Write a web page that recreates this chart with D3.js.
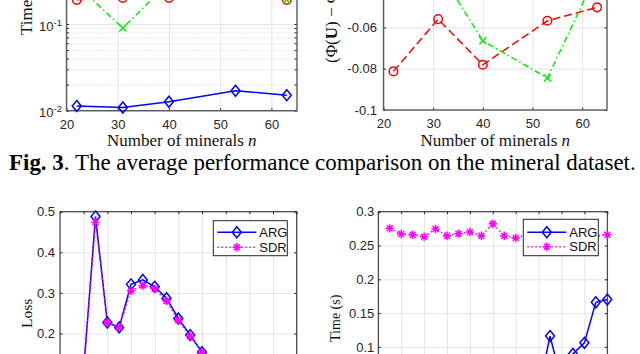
<!DOCTYPE html>
<html>
<head>
<meta charset="utf-8">
<script src="https://cdn.jsdelivr.net/npm/d3@7"></script>
<style>
  body { margin: 0; background: #fff; }
  svg { display: block; }
</style>
</head>
<body>
<div id="fig"></div>
<script>
// values

// top row: mineral dataset
var mineralN = [22, 31, 40, 53, 63];
var timeBlue = [0.0113, 0.0109, 0.0127, 0.017, 0.0151];
var timeRed = [0.19, 0.2, 0.2, 0.25, 0.19];
var timeGreen = [0.28, 0.09, 0.3, 0.35, 0.19];
var gapRed = [-0.0813, -0.056, -0.0781, -0.0568, -0.0503];
var gapGreen = [-0.03, -0.032, -0.0665, -0.0845, -0.0337];

// bottom row: ARG vs SDR
var sizes = [5, 10, 15, 20, 25, 30, 35, 40, 45, 50, 55, 60, 65, 70, 75, 80, 85, 90, 95, 100];
var lossARG = [0.05, 0.11, 0.488, 0.227, 0.215, 0.321, 0.332, 0.315, 0.287, 0.237, 0.196, 0.154, 0.12, 0.1, 0.085, 0.07, 0.06, 0.055, 0.05, 0.045];
var lossSDR = [0.05, 0.11, 0.474, 0.227, 0.215, 0.305, 0.318, 0.31, 0.28, 0.232, 0.193, 0.153, 0.12, 0.1, 0.085, 0.07, 0.06, 0.055, 0.05, 0.045];
var timeARG = [0.005, 0.006, 0.008, 0.01, 0.012, 0.015, 0.018, 0.02, 0.024, 0.027, 0.03, 0.033, 0.035, 0.036, 0.116, 0.05, 0.0895, 0.106, 0.166, 0.17];
var timeSDR = [0.2754, 0.267, 0.266, 0.263, 0.2744, 0.2645, 0.2675, 0.27, 0.2645, 0.282, 0.2645, 0.261, 0.266, 0.268, 0.263, 0.27, 0.265, 0.267, 0.264, 0.266];

var legendNames = ["ARG", "SDR"];

var svgWidth = 640;
var svgHeight = 354;
var serif = "'Liberation Serif','Times New Roman',serif";
var sans = "'Liberation Sans',Arial,sans-serif";
var ink = "#262626";

var svg = d3.select("#fig")
  .append("svg")
  .attr("width", svgWidth)
  .attr("height", svgHeight);

function numFmt(d) {
  return String(+d.toFixed(3));
}

function styleGrid(s, color, dash) {
  s.select(".domain").remove();
  s.selectAll("line").attr("stroke", color).attr("stroke-dasharray", dash || null);
}

// grid, box, ticks and tick labels of one MATLAB-like axes
function drawAxes(x, y, o) {
  var left = x.range()[0], right = x.range()[1];
  var bottom = y.range()[0], top = y.range()[1];
  var w = right - left, h = bottom - top;
  var g = svg.append("g");

  if (o.yMinor) {
    g.append("g")
      .attr("transform", `translate(${left},0)`)
      .call(d3.axisLeft(y).tickValues(o.yMinor).tickSize(-w).tickFormat(""))
      .call((s) => styleGrid(s, "#cfcfcf", "1,2"));
  }
  g.append("g")
    .attr("transform", `translate(0,${bottom})`)
    .call(d3.axisBottom(x).tickValues(o.xTicks).tickSize(-h).tickFormat(""))
    .call((s) => styleGrid(s, "#e4e4e4"));
  g.append("g")
    .attr("transform", `translate(${left},0)`)
    .call(d3.axisLeft(y).tickValues(o.yTicks).tickSize(-w).tickFormat(""))
    .call((s) => styleGrid(s, "#e4e4e4"));

  var tl = 2.5;
  var allY = o.yMinor ? o.yTicks.concat(o.yMinor) : o.yTicks;
  g.append("g").attr("transform", `translate(0,${top})`)
    .call(d3.axisTop(x).tickValues(o.xTicks).tickSize(-tl).tickFormat(""))
    .call((s) => styleGrid(s, ink));
  g.append("g").attr("transform", `translate(${right},0)`)
    .call(d3.axisRight(y).tickValues(allY).tickSize(-tl).tickFormat(""))
    .call((s) => styleGrid(s, ink));

  var xAxis = g.append("g")
    .attr("transform", `translate(0,${bottom})`)
    .call(d3.axisBottom(x).tickValues(o.xTicks).tickSizeInner(-tl).tickSizeOuter(0).tickPadding(o.xPad).tickFormat(numFmt));
  var yAxis = g.append("g")
    .attr("transform", `translate(${left},0)`)
    .call(d3.axisLeft(y).tickValues(o.yTicks).tickSizeInner(-tl).tickSizeOuter(0).tickPadding(o.yPad).tickFormat(o.yFmt || numFmt));
  if (o.yMinor) {
    g.append("g")
      .attr("transform", `translate(${left},0)`)
      .call(d3.axisLeft(y).tickValues(o.yMinor).tickSize(-tl).tickFormat(""))
      .call((s) => styleGrid(s, ink));
  }
  [xAxis, yAxis].forEach((a) => {
    a.select(".domain").remove();
    a.selectAll("line").attr("stroke", ink);
    a.selectAll("text")
      .attr("fill", ink)
      .attr("font-family", sans)
      .attr("font-size", "13px");
  });
  // labels that fall outside the cropped picture are not shown there
  xAxis.selectAll(".tick text").filter(() => bottom > svgHeight).remove();
  yAxis.selectAll(".tick").filter((d) => y(d) < 0 || y(d) > svgHeight).select("text").remove();

  g.append("rect")
    .attr("x", left)
    .attr("y", top)
    .attr("width", w)
    .attr("height", h)
    .attr("fill", "none")
    .attr("stroke", o.frame || ink)
    .attr("stroke-width", o.frameWidth || 1);

  return { g: g, xAxis: xAxis, yAxis: yAxis };
}

var markers = {
  diamond: "M0,-5.5L4.5,0L0,5.5L-4.5,0Z",
  cross: "M-3.5,-3.5L3.5,3.5M-3.5,3.5L3.5,-3.5",
  star: "M-4.2,0H4.2M0,-4.2V4.2M-3,-3L3,3M-3,3L3,-3",
};

function drawSeries(x, y, xs, ys, st) {
  var pts = xs.map((d, i) => [d, ys[i]]);
  var line = d3.line().x((d) => x(d[0])).y((d) => y(d[1]));
  svg.append("path")
    .datum(pts)
    .attr("d", line)
    .attr("fill", "none")
    .attr("stroke", st.color)
    .attr("stroke-width", 1.5)
    .attr("stroke-dasharray", st.dash || null);
  var m = svg.append("g").selectAll(".m").data(pts).enter();
  if (st.marker === "circle") {
    m.append("circle")
      .attr("cx", (d) => x(d[0]))
      .attr("cy", (d) => y(d[1]))
      .attr("r", 4.3)
      .attr("fill", "none")
      .attr("stroke", st.color)
      .attr("stroke-width", 1.5);
  } else {
    m.append("path")
      .attr("d", markers[st.marker])
      .attr("transform", (d) => `translate(${x(d[0])},${y(d[1])})`)
      .attr("fill", "none")
      .attr("stroke", st.color)
      .attr("stroke-width", 1.5);
  }
}

function yLabel(text, tx, ty, size, anchor) {
  return svg.append("text")
    .attr("transform", `translate(${tx},${ty}) rotate(-90)`)
    .attr("text-anchor", anchor)
    .attr("font-family", serif)
    .attr("font-size", size + "px")
    .attr("fill", "#111")
    .text(text);
}

function legend(box, rowY, st) {
  var lg = svg.append("g");
  lg.append("rect")
    .attr("x", box[0]).attr("y", box[1])
    .attr("width", box[2]).attr("height", box[3])
    .attr("fill", "#fff")
    .attr("stroke", ink)
    .attr("stroke-width", 1);
  legendNames.forEach((name, i) => {
    var s = st[i];
    var x0 = box[0] + 4, x1 = box[0] + 43, ym = rowY[i];
    lg.append("line")
      .attr("x1", x0).attr("x2", x1).attr("y1", ym).attr("y2", ym)
      .attr("stroke", s.color).attr("stroke-width", 1.5)
      .attr("stroke-dasharray", s.dash || null);
    lg.append("path")
      .attr("d", markers[s.marker])
      .attr("transform", `translate(${(x0 + x1) / 2},${ym})`)
      .attr("fill", "none").attr("stroke", s.color).attr("stroke-width", 1.5);
    lg.append("text")
      .attr("x", x1 + 3).attr("y", ym).attr("dy", "0.36em")
      .attr("font-family", sans).attr("font-size", "13px").attr("fill", "#111")
      .text(name);
  });
}

var styleBlue = { color: "#0000ff", marker: "diamond" };
var styleRed = { color: "#ff0000", marker: "circle", dash: "8,4" };
var styleGreen = { color: "#00ee00", marker: "cross", dash: "6,3,1.5,3" };
var styleARG = { color: "#0000ff", marker: "diamond" };
var styleSDR = { color: "#ff00ff", marker: "star", dash: "1.5,2.5" };

// ---- top left: running time, log scale
var x1 = d3.scaleLinear().domain([20, 65]).range([66.5, 297]);
var y1 = d3.scaleLog().domain([0.01, 1]).range([110.7, -62.7]);
var a1 = drawAxes(x1, y1, {
  xTicks: [20, 30, 40, 50, 60],
  yTicks: [0.01, 0.1, 1],
  yMinor: [0.02, 0.03, 0.04, 0.05, 0.06, 0.07, 0.08, 0.09, 0.2, 0.3, 0.4, 0.5, 0.6, 0.7, 0.8, 0.9],
  xPad: 9,
  yPad: 4.5,
  yFmt: () => "",
  frame: "#5a5a5a",
  frameWidth: 1.4,
});
a1.yAxis.selectAll(".tick text").each(function (d) {
  var t = d3.select(this).attr("dy", "0.48em");
  t.append("tspan").text("10");
  t.append("tspan").attr("dy", -5).attr("font-size", "9.5px").text(Math.round(Math.log10(d)));
});
drawSeries(x1, y1, mineralN, timeBlue, styleBlue);
drawSeries(x1, y1, mineralN, timeRed, styleRed);
drawSeries(x1, y1, mineralN, timeGreen, styleGreen);
yLabel("Time (s)", 32, 35, 17, "start");
var xl1 = svg.append("text")
  .attr("x", (66.5 + 297) / 2).attr("y", 145.5)
  .attr("text-anchor", "middle")
  .attr("font-family", serif).attr("font-size", "17px").attr("fill", "#111");
xl1.append("tspan").text("Number of minerals ");
xl1.append("tspan").attr("font-style", "italic").text("n");

// ---- top right: relative objective gap
var x2 = d3.scaleLinear().domain([20, 65]).range([383.5, 607]);
var y2 = d3.scaleLinear().domain([-0.1, -0.02]).range([110, -55.2]);
drawAxes(x2, y2, {
  xTicks: [20, 30, 40, 50, 60],
  yTicks: [-0.1, -0.08, -0.06, -0.04, -0.02],
  xPad: 9,
  yPad: 6.5,
  frame: "#5a5a5a",
  frameWidth: 1.4,
});
drawSeries(x2, y2, mineralN, gapRed, styleRed);
drawSeries(x2, y2, mineralN, gapGreen, styleGreen);
var yl2 = yLabel("", 336.5, 63, 17, "start");
yl2.append("tspan").text("(Φ(");
yl2.append("tspan").attr("font-weight", "bold").text("U");
yl2.append("tspan").text(") − Φ(");
yl2.append("tspan").attr("font-weight", "bold").text("U");
yl2.append("tspan").text("*))/Φ(");
yl2.append("tspan").attr("font-weight", "bold").text("U");
yl2.append("tspan").text("*)");
var xl2 = svg.append("text")
  .attr("x", (383.5 + 607) / 2).attr("y", 145.5)
  .attr("text-anchor", "middle")
  .attr("font-family", serif).attr("font-size", "17px").attr("fill", "#111");
xl2.append("tspan").text("Number of minerals ");
xl2.append("tspan").attr("font-style", "italic").text("n");

// ---- caption
var cap = svg.append("text")
  .attr("x", 9).attr("y", 170)
  .attr("font-family", serif).attr("font-size", "22px").attr("fill", "#000");
cap.append("tspan").attr("font-weight", "bold").text("Fig. 3");
cap.append("tspan").text(". The average performance comparison on the mineral dataset.");
var capLen = cap.node().getComputedTextLength();
cap.attr("font-size", (22 * 627 / capLen).toFixed(2) + "px");

// ---- bottom left: loss
var x3 = d3.scaleLinear().domain([0, 100]).range([60, 296.7]);
var y3 = d3.scaleLinear().domain([0, 0.5]).range([414.7, 211.7]);
drawAxes(x3, y3, {
  xTicks: [0, 10, 20, 30, 40, 50, 60, 70, 80, 90, 100],
  yTicks: [0, 0.1, 0.2, 0.3, 0.4, 0.5],
  xPad: 9,
  yPad: 5,
});
drawSeries(x3, y3, sizes, lossARG, styleARG);
drawSeries(x3, y3, sizes, lossSDR, styleSDR);
legend([213.3, 220.7, 74, 35], [232.3, 247.3], [styleARG, styleSDR]);
yLabel("Loss", 31.7, 313.3, 15.5, "middle");

// ---- bottom right: time
var x4 = d3.scaleLinear().domain([0, 100]).range([378.3, 607.3]);
var y4 = d3.scaleLinear().domain([0, 0.3]).range([414.5, 211.7]);
drawAxes(x4, y4, {
  xTicks: [0, 10, 20, 30, 40, 50, 60, 70, 80, 90, 100],
  yTicks: [0, 0.05, 0.1, 0.15, 0.2, 0.25, 0.3],
  xPad: 9,
  yPad: 4,
});
drawSeries(x4, y4, sizes, timeARG, styleARG);
drawSeries(x4, y4, sizes, timeSDR, styleSDR);
legend([523.3, 219.3, 75, 36.4], [232.3, 246.7], [styleARG, styleSDR]);
yLabel("Time (s)", 340, 318.3, 14, "middle");
</script>
</body>
</html>
